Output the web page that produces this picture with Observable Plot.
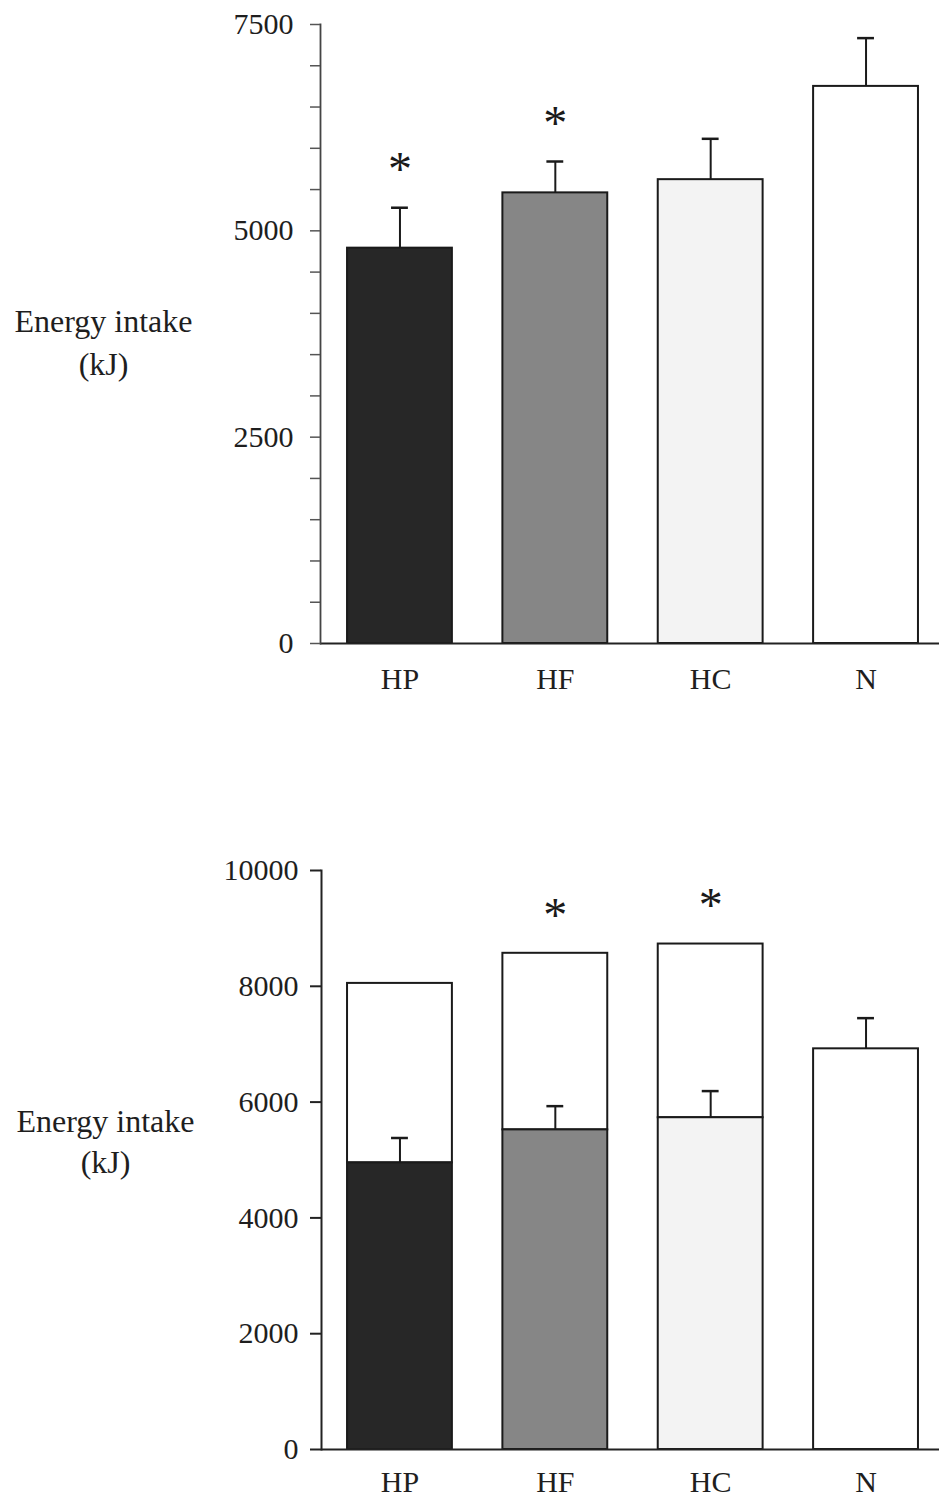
<!DOCTYPE html>
<html>
<head>
<meta charset="utf-8">
<script src="https://cdn.jsdelivr.net/npm/d3@7"></script>
<script src="https://cdn.jsdelivr.net/npm/@observablehq/plot@0.6"></script>
<style>
  body { margin: 0; background: #fff; }
  #charts svg { display: block; }
</style>
</head>
<body>
<div id="charts"></div>
<script>
// Diet groups
const groups = ["HP", "HF", "HC", "N"];

// Upper panel: mean energy intake (kJ) with SEM
const intakeMean = [4790, 5460, 5620, 6750];
const intakeSem = [490, 380, 495, 585];
const intakeStar = [true, true, false, false];
const upperTickLabels = [0, 2500, 5000, 7500];
const upperMinorTicks = [500, 1000, 1500, 2000, 3000, 3500, 4000, 4500, 5500, 6000, 6500, 7000];

// Lower panel: diet-group intake (shaded, with SEM) and total intake (outlined)
const baseMean = [4950, 5520, 5730, 6920];
const baseSem = [430, 410, 460, 530];
const totalMean = [8050, 8570, 8730, null];
const totalStar = [false, true, true, false];
const lowerTickLabels = [0, 2000, 4000, 6000, 8000, 10000];

const upperRows = groups.map((g, i) => ({
  group: g, mean: intakeMean[i], hi: intakeMean[i] + intakeSem[i], star: intakeStar[i]
}));
const lowerRows = groups.map((g, i) => ({
  group: g, mean: baseMean[i], hi: baseMean[i] + baseSem[i], total: totalMean[i], star: totalStar[i]
}));

const font = '"Liberation Serif", "Times New Roman", serif';
const fills = ["#272727", "#868686", "#f3f3f3", "#ffffff"];
const ink = "#1a1a1a";
const xScale = {domain: groups, range: [320, 945], paddingInner: 0.325, paddingOuter: 0.174, round: false};
const baseStyle = {fontFamily: font, fontSize: "30px", color: "#1e1e1e", background: "#fff", overflow: "visible"};

const upper = Plot.plot({
  width: 939, height: 700,
  marginLeft: 320, marginRight: 0, marginTop: 24, marginBottom: 57,
  style: baseStyle,
  x: xScale,
  y: {domain: [0, 7500]},
  color: {domain: groups, range: fills},
  marks: [
    Plot.barY(upperRows, {x: "group", y: "mean", fill: "group", stroke: ink, strokeWidth: 2}),
    Plot.ruleX(upperRows, {x: "group", y1: "mean", y2: "hi", stroke: ink, strokeWidth: 2}),
    Plot.tickY(upperRows, {x: "group", y: "hi", stroke: ink, strokeWidth: 2.5, insetLeft: 44, insetRight: 44}),
    Plot.text(upperRows.filter(d => d.star), {x: "group", y: "hi", text: () => "*", dy: -38, fontSize: 48, fill: ink}),
    Plot.ruleY([0], {stroke: "#222", strokeWidth: 2}),
    Plot.frame({anchor: "left", stroke: "#444", strokeWidth: 1.8}),
    Plot.axisY({
      ticks: [...upperTickLabels, ...upperMinorTicks].sort((a, b) => a - b),
      tickFormat: d => upperTickLabels.includes(d) ? String(d) : "",
      tickSize: 10, tickPadding: 17, stroke: "#555", strokeWidth: 1.5, fontSize: 30, label: null
    }),
    Plot.axisX({tickSize: 0, tickPadding: 24, fontSize: 30, label: null}),
    Plot.text(["Energy intake\n(kJ)"], {frameAnchor: "left", dx: -217, dy: 6, textAnchor: "middle", lineHeight: 1.35, fontSize: 32})
  ]
});

const lower = Plot.plot({
  width: 939, height: 800,
  marginLeft: 321, marginRight: 0, marginTop: 170, marginBottom: 51,
  style: baseStyle,
  x: xScale,
  y: {domain: [0, 10000]},
  color: {domain: groups, range: fills},
  marks: [
    Plot.barY(lowerRows.filter(d => d.total != null), {x: "group", y1: "mean", y2: "total", fill: "#fff", stroke: ink, strokeWidth: 2}),
    Plot.barY(lowerRows, {x: "group", y: "mean", fill: "group", stroke: ink, strokeWidth: 2}),
    Plot.ruleX(lowerRows, {x: "group", y1: "mean", y2: "hi", stroke: ink, strokeWidth: 2}),
    Plot.tickY(lowerRows, {x: "group", y: "hi", stroke: ink, strokeWidth: 2.5, insetLeft: 44, insetRight: 44}),
    Plot.text(lowerRows.filter(d => d.star), {x: "group", y: "total", text: () => "*", dy: -38, fontSize: 48, fill: ink}),
    Plot.ruleY([0], {stroke: "#222", strokeWidth: 2}),
    Plot.frame({anchor: "left", stroke: "#222", strokeWidth: 2}),
    Plot.axisY({
      ticks: lowerTickLabels, tickFormat: d => String(d),
      tickSize: 11, tickPadding: 12, stroke: "#222", strokeWidth: 2, fontSize: 30, label: null
    }),
    Plot.axisX({tickSize: 0, tickPadding: 21, fontSize: 30, label: null}),
    Plot.text(["Energy intake\n(kJ)"], {frameAnchor: "left", dx: -216, dy: -21, textAnchor: "middle", lineHeight: 1.3, fontSize: 32})
  ]
});

const host = document.getElementById("charts");
host.append(upper, lower);
</script>
</body>
</html>
